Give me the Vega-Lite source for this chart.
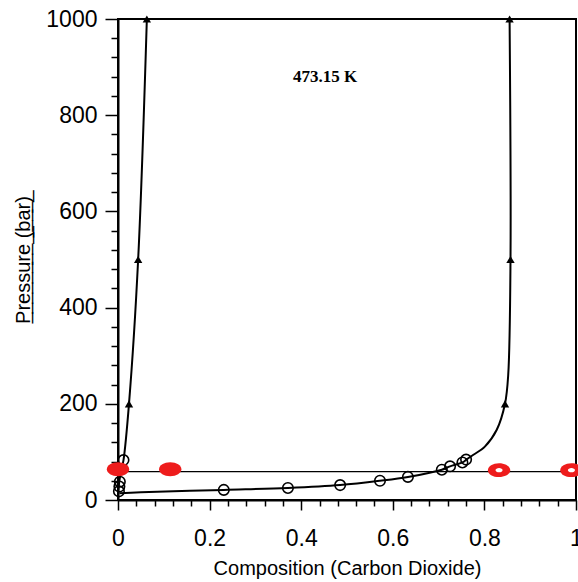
{
  "$schema": "https://vega.github.io/schema/vega-lite/v6.json",
  "autosize": "none",
  "width": 458,
  "height": 481,
  "padding": {"left": 118, "top": 19, "right": 2, "bottom": 82},
  "background": "white",
  "config": {
    "view": {"stroke": "black", "strokeWidth": 2},
    "axis": {"grid": false, "domainColor": "black", "domainWidth": 2, "tickColor": "black", "tickWidth": 1.5, "labelColor": "black", "titleColor": "black", "labelFont": "Liberation Sans", "titleFont": "Liberation Sans", "titleFontWeight": "normal", "labelFontSize": 23, "titleFontSize": 20, "labelOverlap": false, "labelFlush": false}
  },
  "datasets": {
    "curves": [
      {"curve": "left", "i": 1, "x": 0.0, "p": 15},
      {"curve": "left", "i": 2, "x": 0.002, "p": 32},
      {"curve": "left", "i": 3, "x": 0.005, "p": 52},
      {"curve": "left", "i": 4, "x": 0.012, "p": 83},
      {"curve": "left", "i": 5, "x": 0.024, "p": 200},
      {"curve": "left", "i": 6, "x": 0.044, "p": 500},
      {"curve": "left", "i": 7, "x": 0.063, "p": 1000},
      {"curve": "right", "i": 1, "x": 0.003, "p": 14},
      {"curve": "right", "i": 2, "x": 0.05, "p": 16},
      {"curve": "right", "i": 3, "x": 0.231, "p": 21},
      {"curve": "right", "i": 4, "x": 0.371, "p": 25},
      {"curve": "right", "i": 5, "x": 0.485, "p": 31},
      {"curve": "right", "i": 6, "x": 0.572, "p": 40},
      {"curve": "right", "i": 7, "x": 0.633, "p": 48},
      {"curve": "right", "i": 8, "x": 0.707, "p": 63},
      {"curve": "right", "i": 9, "x": 0.725, "p": 70},
      {"curve": "right", "i": 10, "x": 0.752, "p": 78},
      {"curve": "right", "i": 11, "x": 0.762, "p": 85},
      {"curve": "right", "i": 12, "x": 0.776, "p": 94},
      {"curve": "right", "i": 13, "x": 0.801, "p": 111},
      {"curve": "right", "i": 14, "x": 0.827, "p": 146},
      {"curve": "right", "i": 15, "x": 0.845, "p": 200},
      {"curve": "right", "i": 16, "x": 0.852, "p": 260},
      {"curve": "right", "i": 17, "x": 0.857, "p": 500},
      {"curve": "right", "i": 18, "x": 0.855, "p": 1000}
    ],
    "circles": [
      {"x": 0.002, "p": 18},
      {"x": 0.003, "p": 28},
      {"x": 0.004, "p": 38},
      {"x": 0.012, "p": 83},
      {"x": 0.231, "p": 21},
      {"x": 0.371, "p": 25},
      {"x": 0.485, "p": 31},
      {"x": 0.572, "p": 40},
      {"x": 0.633, "p": 48},
      {"x": 0.707, "p": 63},
      {"x": 0.725, "p": 70},
      {"x": 0.752, "p": 78},
      {"x": 0.760, "p": 84}
    ],
    "triangles": [
      {"x": 0.024, "p": 200},
      {"x": 0.044, "p": 500},
      {"x": 0.063, "p": 1000},
      {"x": 0.845, "p": 200},
      {"x": 0.857, "p": 500},
      {"x": 0.855, "p": 1000}
    ],
    "red": [
      {"x": 0.0, "p": 64, "kind": "solid"},
      {"x": 0.114, "p": 64, "kind": "solid"},
      {"x": 0.832, "p": 62, "kind": "ring"},
      {"x": 0.99, "p": 62, "kind": "ring"}
    ],
    "hline": [{"p": 59}],
    "label": [{"x": 0.452, "p": 879, "text": "473.15 K"}]
  },
  "layer": [
    {
      "data": {"name": "hline"},
      "mark": {"type": "rule", "color": "black", "strokeWidth": 1.2},
      "encoding": {
        "y": {"field": "p", "type": "quantitative", "scale": {"domain": [0, 1000], "nice": false, "zero": false},
          "axis": {"title": "P̲r̲e̲s̲s̲u̲r̲e̲ ̲(̲b̲a̲r̲)̲", "values": [0,40,80,120,160,200,240,280,320,360,400,440,480,520,560,600,640,680,720,760,800,840,880,920,960,1000],
            "tickCount": 100,
            "labelExpr": "datum.value % 200 === 0 ? format(datum.value, 'd') : ''",
            "labelOverlap": false,
            "tickSize": {"condition": {"test": "datum.value % 200 === 0", "value": 13}, "value": 7},
            "labelPadding": 8, "titlePadding": 12}}
      }
    },
    {
      "data": {"name": "curves"},
      "mark": {"type": "line", "color": "black", "strokeWidth": 2, "interpolate": "catmull-rom", "clip": true},
      "encoding": {
        "x": {"field": "x", "type": "quantitative", "scale": {"domain": [0, 1], "nice": false, "zero": false},
          "axis": {"title": "Composition (Carbon Dioxide)", "values": [0,0.04,0.08,0.12,0.16,0.2,0.24,0.28,0.32,0.36,0.4,0.44,0.48,0.52,0.56,0.6,0.64,0.68,0.72,0.76,0.8,0.84,0.88,0.92,0.96,1],
            "tickCount": 100,
            "labelExpr": "abs(datum.value*5 - round(datum.value*5)) < 0.001 ? format(datum.value, '~g') : ''",
            "labelOverlap": false,
            "tickSize": {"condition": {"test": "abs(datum.value*5 - round(datum.value*5)) < 0.001", "value": 10}, "value": 6},
            "labelPadding": 17, "titlePadding": 8}},
        "y": {"field": "p", "type": "quantitative"},
        "detail": {"field": "curve"},
        "order": {"field": "i", "type": "quantitative"}
      }
    },
    {
      "data": {"name": "circles"},
      "mark": {"type": "point", "shape": "circle", "filled": false, "color": "black", "size": 110, "strokeWidth": 1.6, "opacity": 1},
      "encoding": {
        "x": {"field": "x", "type": "quantitative"},
        "y": {"field": "p", "type": "quantitative"}
      }
    },
    {
      "data": {"name": "triangles"},
      "mark": {"type": "point", "shape": "triangle-up", "filled": true, "color": "black", "size": 70, "opacity": 1},
      "encoding": {
        "x": {"field": "x", "type": "quantitative"},
        "y": {"field": "p", "type": "quantitative"}
      }
    },
    {
      "data": {"name": "red"},
      "mark": {"type": "point", "shape": "M-1,0A1,0.62 0 1,1 1,0A1,0.62 0 1,1 -1,0Z", "filled": true, "color": "#ee1c1c", "size": 500, "opacity": 1, "clip": false},
      "encoding": {
        "x": {"field": "x", "type": "quantitative"},
        "y": {"field": "p", "type": "quantitative"}
      }
    },
    {
      "data": {"name": "red"},
      "transform": [{"filter": "datum.kind === 'ring'"}],
      "mark": {"type": "point", "shape": "M-1,0A1,0.62 0 1,1 1,0A1,0.62 0 1,1 -1,0Z", "filled": true, "color": "white", "size": 50, "opacity": 1},
      "encoding": {
        "x": {"field": "x", "type": "quantitative"},
        "y": {"field": "p", "type": "quantitative"}
      }
    },
    {
      "data": {"name": "label"},
      "mark": {"type": "text", "font": "Liberation Serif", "fontWeight": "bold", "fontSize": 17, "color": "black"},
      "encoding": {
        "x": {"field": "x", "type": "quantitative"},
        "y": {"field": "p", "type": "quantitative"},
        "text": {"field": "text"}
      }
    }
  ]
}
